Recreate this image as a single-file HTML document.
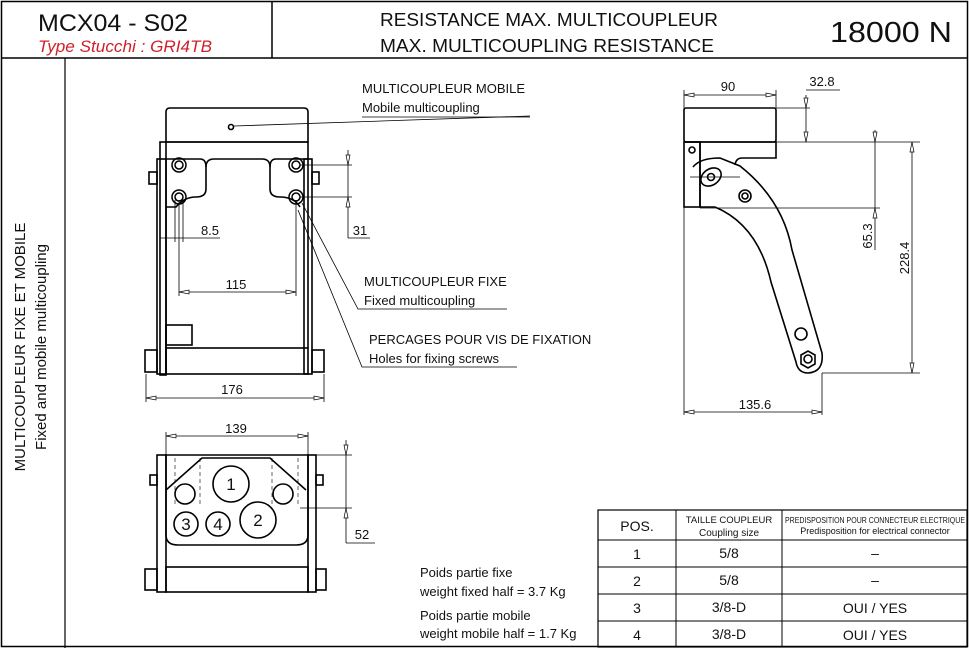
<!DOCTYPE html>
<html><head><style>body{margin:0;background:#fff}svg{display:block}text{font-family:"Liberation Sans",sans-serif;fill:#111}</style></head><body>
<svg width="969" height="648" viewBox="0 0 969 648" xmlns="http://www.w3.org/2000/svg">
<g fill="none" stroke="#000">
<rect x="1.5" y="1.5" width="966" height="645" stroke-width="1.5"/>
<line x1="1" y1="58" x2="968" y2="58" stroke-width="1.5"/>
<line x1="272" y1="1" x2="272" y2="58" stroke-width="1.5"/>
<line x1="65" y1="58" x2="65" y2="648" stroke-width="1.2"/>
<rect x="598" y="510" width="369" height="137" stroke-width="1.2"/>
<line x1="676" y1="510" x2="676" y2="647"/><line x1="782" y1="510" x2="782" y2="647"/>
<line x1="598" y1="540" x2="967" y2="540"/><line x1="598" y1="567" x2="967" y2="567"/>
<line x1="598" y1="594" x2="967" y2="594"/><line x1="598" y1="621" x2="967" y2="621"/>
</g>
<text x="38" y="31" font-size="24" textLength="150" lengthAdjust="spacingAndGlyphs">MCX04 - S02</text>
<text x="38" y="52" font-size="17" font-style="italic" style="fill:#d0202a" textLength="174" lengthAdjust="spacingAndGlyphs">Type Stucchi : GRI4TB</text>
<text x="380" y="26" font-size="18" textLength="338" lengthAdjust="spacingAndGlyphs">RESISTANCE MAX. MULTICOUPLEUR</text>
<text x="380" y="52" font-size="18" textLength="334" lengthAdjust="spacingAndGlyphs">MAX. MULTICOUPLING RESISTANCE</text>
<text x="830" y="42" font-size="29" textLength="122" lengthAdjust="spacingAndGlyphs">18000 N</text>
<text transform="translate(25,347) rotate(-90)" font-size="15" text-anchor="middle">MULTICOUPLEUR FIXE ET MOBILE</text>
<text transform="translate(46,347) rotate(-90)" font-size="15" text-anchor="middle">Fixed and mobile multicoupling</text>
<g font-size="14" text-anchor="middle">
<text x="637" y="531">POS.</text>
<text x="637" y="559">1</text><text x="637" y="586">2</text><text x="637" y="613">3</text><text x="637" y="640">4</text>
<text x="729" y="558">5/8</text><text x="729" y="585">5/8</text><text x="729" y="612">3/8-D</text><text x="729" y="639">3/8-D</text>
<text x="875" y="558">–</text><text x="875" y="585">–</text><text x="875" y="613">OUI / YES</text><text x="875" y="640">OUI / YES</text>
</g>
<text x="729" y="523" font-size="9.5" text-anchor="middle">TAILLE COUPLEUR</text>
<text x="729" y="536" font-size="10" text-anchor="middle">Coupling size</text>
<text x="875" y="523" font-size="8.5" text-anchor="middle" textLength="180" lengthAdjust="spacingAndGlyphs">PREDISPOSITION POUR CONNECTEUR ELECTRIQUE</text>
<text x="875" y="534" font-size="9" text-anchor="middle">Predisposition for electrical connector</text>
<g font-size="13"><text x="420" y="577">Poids partie fixe</text><text x="420" y="596">weight fixed half = 3.7 Kg</text>
<text x="420" y="620">Poids partie mobile</text><text x="420" y="638">weight mobile half = 1.7 Kg</text></g>
<g font-size="13">
<text x="362" y="93">MULTICOUPLEUR MOBILE</text><text x="362" y="112">Mobile multicoupling</text>
<text x="364" y="286">MULTICOUPLEUR FIXE</text><text x="364" y="305">Fixed multicoupling</text>
<text x="369" y="344">PERCAGES POUR VIS DE FIXATION</text><text x="369" y="363">Holes for fixing screws</text>
</g>
<g font-size="13" text-anchor="middle">
<text x="232" y="394">176</text><text x="236" y="289">115</text><text x="210" y="235">8.5</text><text x="360" y="235">31</text>
<text x="236" y="433">139</text><text x="362" y="539">52</text>
<text x="728" y="91">90</text><text x="822" y="86">32.8</text><text x="755" y="409">135.6</text>
<text transform="translate(872,236) rotate(-90)">65.3</text>
<text transform="translate(909,258) rotate(-90)">228.4</text>
</g>
<g font-size="17" text-anchor="middle">
<text x="231" y="490">1</text><text x="258" y="526">2</text><text x="186" y="530">3</text><text x="218" y="530">4</text>
</g>
<g fill="none" stroke="#000" stroke-width="0.8">
<polyline points="234,126 530,116"/><line x1="362" y1="117" x2="530" y2="117"/>
<polyline points="302,203 358,309 507,309"/>
<polyline points="298,210 362,367 517,367"/>
</g>
<g fill="none" stroke="#000" stroke-width="1.6">
<path d="M166,112 q0,-4 4,-4 h134 q4,0 4,4 v30 h-142z"/>
<circle cx="231" cy="127" r="2.5"/>
<rect x="160" y="142" width="6" height="233"/>
<rect x="157" y="159" width="9" height="215"/>
<rect x="304" y="159" width="8" height="215"/>
<line x1="166" y1="142" x2="308" y2="142"/><line x1="308" y1="142" x2="308" y2="348"/>
<rect x="166" y="348" width="142" height="26"/>
<rect x="145" y="350" width="12" height="22"/><rect x="312" y="350" width="12" height="22"/>
<rect x="149" y="172" width="8" height="12"/><rect x="312" y="172" width="7" height="12"/>
<path d="M166,159 H200 q6,0 6,8 v22 q0,8 -10,8 q-12,0 -20,10 H166 M308,159 H276 q-6,0 -6,8 v22 q0,8 10,8 q14,0 20,10"/>
<path d="M206,167 q0,-8 8,-8 h48 q8,0 8,8"/>
<rect x="166" y="325" width="26" height="20"/>
<rect x="684" y="108" width="92" height="34" rx="2"/>
<path d="M684,142 H776 V158 H742 Q736,158 735,165"/>
<rect x="684" y="142" width="16" height="65"/>
<path d="M700,142 V207 H715"/>
<path d="M693,167 Q700,158 720,158 L740,166 Q783,200 792,250 L822,353 Q824,372 808,373 Q798,373 796,362 L771,282 Q758,225 715,207"/>
<polygon points="801,355 808,351 815,355 815,364 808,368 801,364"/>
<circle cx="808" cy="359" r="4"/>
<circle cx="801" cy="334" r="6"/>
<circle cx="745" cy="196" r="6"/><circle cx="745" cy="196" r="3"/>
<ellipse cx="711" cy="177" rx="11" ry="8" transform="rotate(-35 711 177)"/>
<circle cx="711" cy="177" r="3.5"/>
<circle cx="692" cy="150" r="3"/>
<rect x="157" y="455" width="9" height="137"/><rect x="308" y="455" width="8" height="137"/>
<path d="M166,455 H308 V535 q0,10 -12,10 H178 q-12,0 -12,-10z"/>
<path d="M166,490 L202,458 H270 L306,490"/>
<circle cx="231" cy="484" r="18"/><circle cx="258" cy="520" r="18"/>
<circle cx="186" cy="524" r="12"/><circle cx="218" cy="524" r="12"/>
<circle cx="185" cy="494" r="10"/><circle cx="283" cy="494" r="10"/>
<rect x="166" y="567" width="142" height="25"/>
<rect x="145" y="569" width="12" height="21"/><rect x="316" y="569" width="10" height="21"/>
<rect x="150" y="475" width="7" height="10"/><rect x="316" y="475" width="7" height="10"/>
</g>
<g fill="none" stroke="#000" stroke-width="0.6" stroke-dasharray="4,3">
<line x1="175" y1="458" x2="175" y2="505"/><line x1="200" y1="458" x2="200" y2="505"/>
<line x1="272" y1="458" x2="272" y2="505"/><line x1="298" y1="458" x2="298" y2="505"/>
</g>
<g fill="none" stroke="#000" stroke-width="1.5">
<circle cx="179" cy="165" r="7"/><circle cx="179" cy="165" r="4"/>
<circle cx="179" cy="197" r="7"/><circle cx="179" cy="197" r="4"/>
<circle cx="296" cy="165" r="7"/><circle cx="296" cy="165" r="4"/>
<circle cx="296" cy="197" r="7"/><circle cx="296" cy="197" r="4"/>
</g>
<g fill="none" stroke="#000" stroke-width="0.8">
<line x1="146" y1="398" x2="324" y2="398"/><line x1="146" y1="374" x2="146" y2="402"/><line x1="324" y1="374" x2="324" y2="402"/>
<line x1="179" y1="292" x2="296" y2="292"/><line x1="179" y1="200" x2="179" y2="296"/><line x1="296" y1="200" x2="296" y2="296"/>
<line x1="175" y1="200" x2="175" y2="242"/><line x1="183" y1="200" x2="183" y2="242"/>
<line x1="160" y1="238" x2="220" y2="238"/>
<line x1="300" y1="165" x2="352" y2="165"/><line x1="300" y1="197" x2="352" y2="197"/>
<line x1="348" y1="150" x2="348" y2="238"/><line x1="348" y1="238" x2="370" y2="238"/>
<line x1="166" y1="436" x2="308" y2="436"/><line x1="166" y1="432" x2="166" y2="455"/><line x1="308" y1="432" x2="308" y2="455"/>
<line x1="308" y1="455" x2="352" y2="455"/><line x1="300" y1="508" x2="352" y2="508"/>
<line x1="346" y1="440" x2="346" y2="543"/><line x1="346" y1="543" x2="375" y2="543"/>
<line x1="684" y1="95" x2="776" y2="95"/><line x1="684" y1="90" x2="684" y2="415"/><line x1="776" y1="90" x2="776" y2="108"/>
<line x1="776" y1="108" x2="810" y2="108"/><line x1="806" y1="95" x2="806" y2="142"/><line x1="806" y1="90" x2="840" y2="90"/>
<line x1="700" y1="142" x2="920" y2="142"/><line x1="700" y1="208" x2="880" y2="208"/>
<line x1="875" y1="130" x2="875" y2="250"/>
<line x1="822" y1="373" x2="920" y2="373"/><line x1="912" y1="142" x2="912" y2="373"/>
<line x1="684" y1="412" x2="822" y2="412"/><line x1="822" y1="373" x2="822" y2="415"/>
<line x1="690" y1="177" x2="740" y2="177"/>
</g>
<g fill="#fff" stroke="#000" stroke-width="0.7">
<path d="M146,398 l10,-2 v4z"/><path d="M324,398 l-10,-2 v4z"/>
<path d="M179,292 l10,-2 v4z"/><path d="M296,292 l-10,-2 v4z"/>
<path d="M166,436 l10,-2 v4z"/><path d="M308,436 l-10,-2 v4z"/>
<path d="M684,95 l10,-2 v4z"/><path d="M776,95 l-10,-2 v4z"/>
<path d="M684,412 l10,-2 v4z"/><path d="M822,412 l-10,-2 v4z"/>
<path d="M348,165 l-2,-10 h4z"/><path d="M348,197 l-2,10 h4z"/>
<path d="M346,455 l-2,-10 h4z"/><path d="M346,508 l-2,10 h4z"/>
<path d="M806,108 l-2,-10 h4z"/><path d="M806,142 l-2,-10 h4z"/>
<path d="M875,142 l-2,-10 h4z"/><path d="M875,208 l-2,10 h4z"/>
<path d="M912,142 l-2,10 h4z"/><path d="M912,373 l-2,-10 h4z"/>
</g>
</svg>
</body></html>
